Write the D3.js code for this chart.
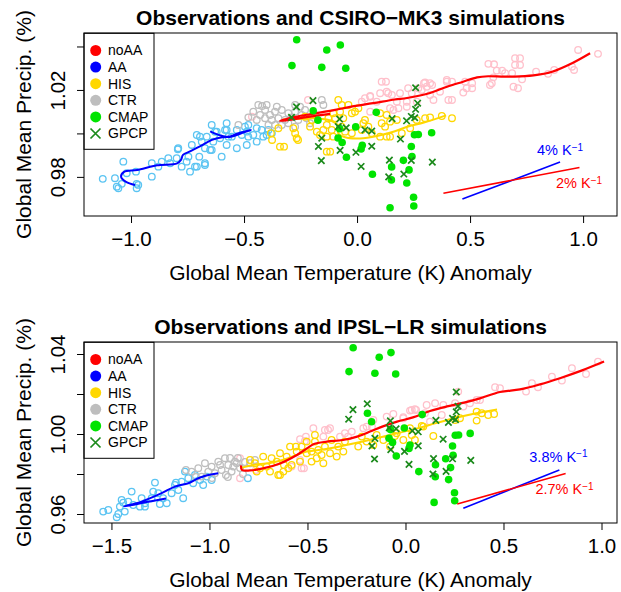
<!DOCTYPE html>
<html>
<head>
<meta charset="utf-8">
<script src="https://cdn.jsdelivr.net/npm/d3@7"></script>
<style>
body { margin: 0; background: #fff; }
text { font-family: "Liberation Sans", Arial, Helvetica, sans-serif; }
</style>
</head>
<body>
<div id="chart"></div>
<script>
// ---------- data (temperature anomaly K, normalised precip.) ----------
const seriesNames = ["noAA", "AA", "HIS", "CTR", "CMAP", "GPCP"];

// observations, shared by both panels
const obsCMAP = [[-0.267,1.0431],[-0.134,1.0384],[-0.074,1.0407],[-0.288,1.0312],[-0.156,1.0304],[-0.050,1.0300],
  [-0.194,1.0104],[-0.173,1.0061],[-0.077,1.0022],[-0.006,1.0030],[0.085,1.0097],[-0.066,0.9958],
  [-0.084,0.9979],[-0.047,0.9890],[0.018,0.9928],[0.068,0.9812],[0.153,0.9846],[0.152,0.9786],
  [0.146,0.9658],[0.205,0.9876],[0.240,0.9940],[0.254,0.9994],[0.271,0.9995],[0.330,1.0003],
  [0.243,0.9894],[0.230,0.9832],[0.220,0.9772],[0.250,0.9706],[0.251,0.9666],[0.023,0.9945]];
const obsGPCP = [[-0.195,1.0151],[-0.268,1.0122],[-0.290,1.0074],[-0.077,1.0066],[-0.048,1.0026],[-0.083,1.0031],
  [-0.156,0.9978],[-0.171,0.9940],[-0.075,0.9922],[-0.158,0.9875],[-0.005,0.9913],[0.065,1.0011],
  [0.065,0.9941],[0.018,0.9848],[0.155,1.0068],[0.192,0.9974],[0.143,0.9877],[0.140,0.9800],
  [0.207,0.9813],[0.240,0.9876],[0.219,1.0058],[0.240,1.0078],[0.255,1.0072],[0.268,1.0139],
  [0.259,1.0210],[0.259,1.0111],[0.333,0.9868],[0.035,1.0016]];

// CSIRO-MK3
const csiroNoAA = [[0.109,1.0238],[0.581,1.0320],[0.699,1.0346],[0.699,1.0315],[0.618,1.0289],[0.655,1.0277],
  [0.603,1.0258],[0.596,1.0231],[0.692,1.0215],[0.478,1.0238],[0.485,1.0208],[0.470,1.0188],[0.397,1.0238],
  [0.404,1.0154],[0.367,1.0192],[0.323,1.0177],[0.301,1.0234],[0.308,1.0215],[0.286,1.0200],[0.242,1.0185],
  [0.220,1.0146],[0.183,1.0116],[0.154,1.0177],[0.131,1.0192],[0.102,1.0185],[0.058,1.0172],[0.035,1.0162],
  [0.021,1.0146],[0.087,1.0146],[0.176,1.0146],[0.146,1.0116],[0.264,1.0146],[0.338,1.0154],[0.978,1.0384],
  [1.066,1.0366],[0.721,1.0346],[0.721,1.0315],[0.606,1.0318],[0.642,1.0289],[0.686,1.0277],[0.588,1.0223],
  [0.509,1.0231],[0.420,1.0238],[0.420,1.0154],[0.509,1.0208],[0.845,1.0274],[0.792,1.0284],[0.872,1.0292],
  [0.951,1.0307],[0.960,1.0292],[0.712,1.0208],[0.730,1.0249],[0.128,1.0238],[-0.217,1.0154],[-0.465,1.0077],
  [0.226,1.0208],[0.296,1.0231],[0.332,1.0223],[0.058,1.0169],[0.190,1.0185],[0.397,1.0246],[0.323,1.0231],
  [0.271,1.0208],[0.058,1.0100],[0.220,1.0123],[0.161,1.0108],[0.138,1.0185]];
const csiroAA = [[-1.125,0.9791],[-1.071,0.9794],[-1.063,0.9755],[-1.041,0.9768],[-1.034,0.9870],[-1.019,0.9817],
  [-0.975,0.9768],[-0.975,0.9748],[-0.978,0.9824],[-0.908,0.9863],[-0.908,0.9801],[-0.879,0.9847],[-0.864,0.9870],
  [-0.835,0.9886],[-0.827,0.9863],[-0.791,0.9932],[-0.798,0.9886],[-0.754,0.9870],[-0.776,0.9847],[-0.717,0.9847],
  [-0.746,0.9893],[-0.709,0.9993],[-0.698,0.9893],[-0.673,0.9855],[-0.687,0.9962],[-0.673,0.9932],[-0.643,1.0039],
  [-0.636,0.9962],[-0.643,0.9924],[-0.599,0.9893],[-0.621,1.0008],[-0.606,0.9978],[-0.577,1.0016],[-0.577,0.9947],
  [-0.554,0.9985],[-0.532,0.9932],[-0.532,1.0016],[-0.510,0.9993],[-0.488,1.0008],[-0.481,1.0039],[-0.459,0.9993],
  [-0.444,1.0024],[-0.422,1.0016],[-0.415,0.9985],[-0.577,1.0047],[-0.665,0.9985],[-0.731,0.9947],[-0.628,1.0008],
  [-0.695,0.9985],[-0.650,0.9924],[-0.488,0.9947],[-0.481,0.9985],[-0.444,0.9962],[-0.400,0.9993],[-0.377,1.0001],
  [-0.392,1.0016],[-0.496,1.0031],[-0.584,1.0016],[-0.569,0.9985],[-0.709,0.9847],[-0.673,0.9863],[-1.056,0.9748],
  [-0.968,0.9763],[-0.793,0.9927],[-0.739,0.9824]];
const csiroHIS = [[-0.341,0.9939],[-0.274,1.0001],[-0.267,0.9978],[-0.282,1.0024],[-0.348,1.0024],[-0.381,1.0001],
  [-0.083,1.0154],[-0.068,1.0131],[-0.038,1.0131],[-0.075,1.0100],[-0.105,1.0093],[-0.127,1.0070],[-0.097,1.0070],
  [-0.061,1.0070],[-0.023,1.0093],[-0.009,1.0100],[0.006,1.0116],[-0.134,1.0039],[-0.112,1.0016],[-0.149,1.0016],
  [-0.164,0.9993],[-0.134,0.9985],[-0.105,0.9985],[-0.053,1.0008],[-0.023,1.0001],[-0.134,0.9916],[0.035,1.0062],
  [0.050,1.0031],[0.021,1.0016],[0.102,1.0093],[0.131,1.0085],[0.146,1.0054],[0.124,1.0031],[0.131,0.9985],
  [0.102,0.9985],[0.065,1.0001],[-0.200,1.0062],[-0.230,1.0077],[-0.208,1.0031],[-0.178,1.0008],[0.146,0.9985],
  [0.198,1.0001],[0.235,1.0024],[0.301,1.0070],[0.375,1.0080],[0.176,1.0062],[0.109,1.0047],[0.028,1.0047],
  [-0.068,1.0031],[0.264,1.0062],[0.420,1.0070],[0.323,1.0074],[-0.376,0.9970],[-0.323,0.9939],[-0.119,0.9916],
  [-0.261,0.9970]];
const csiroCTR = [[-0.437,1.0131],[-0.459,1.0100],[-0.481,1.0074],[-0.525,1.0039],[-0.407,1.0108],[-0.385,1.0085],
  [-0.363,1.0100],[-0.333,1.0108],[-0.304,1.0093],[-0.377,1.0062],[-0.348,1.0070],[-0.319,1.0062],[-0.289,1.0074],
  [-0.274,1.0100],[-0.407,1.0070],[-0.392,1.0039],[-0.363,1.0039],[-0.333,1.0039],[-0.304,1.0047],[-0.260,1.0062],
  [-0.245,1.0085],[-0.223,1.0070],[-0.230,1.0108],[-0.156,1.0154],[-0.149,1.0131],[-0.186,1.0085],[-0.274,1.0031],
  [-0.429,1.0085],[-0.444,1.0062],[-0.400,1.0131],[-0.355,1.0123],[-0.274,1.0131],[-0.208,1.0047],[-0.420,1.0126],
  [-0.252,1.0123]];
const csiroNoAALine = [[-0.119,1.0090],[-0.230,1.0074],[-0.341,1.0057],[-0.274,1.0076],[-0.186,1.0092],[-0.097,1.0108],
  [-0.031,1.0122],[0.071,1.0139],[0.168,1.0156],[0.221,1.0163],[0.323,1.0186],[0.398,1.0215],[0.469,1.0238],
  [0.531,1.0258],[0.580,1.0263],[0.650,1.0261],[0.721,1.0262],[0.796,1.0269],[0.863,1.0284],[0.951,1.0323],[1.031,1.0369]];
const csiroAALine = [[-0.982,0.9763],[-1.022,0.9777],[-1.044,0.9800],[-1.031,0.9823],[-0.973,0.9832],[-0.885,0.9853],
  [-0.796,0.9862],[-0.779,0.9878],[-0.770,0.9901],[-0.739,0.9917],[-0.695,0.9940],[-0.642,0.9970],[-0.597,0.9982],
  [-0.562,0.9986],[-0.527,1.0000],[-0.469,1.0016],[-0.500,1.0005],[-0.562,0.9984],[-0.597,0.9988],[-0.650,1.0009]];
const csiroHISLine = [[-0.327,1.0064],[-0.252,1.0067],[-0.173,1.0069],[-0.111,1.0057],[-0.084,1.0034],[-0.084,1.0002],
  [-0.053,0.9982],[0.013,0.9977],[0.088,0.9988],[0.164,1.0009],[0.226,1.0032],[0.296,1.0050],[0.394,1.0083]];
const csiroSlopeAA = [[0.466,0.9698],[0.898,0.9868]];
const csiroSlopeNoAA = [[0.382,0.9725],[0.984,0.9843]];
const csiroSlopeText = [["4%", 0.898, 0.9924], ["2%", 0.982, 0.9771]];

// IPSL-LR
const ipslNoAA = [[-0.844,0.9879],[-0.844,0.9779],[-0.538,0.9974],[-0.513,0.9965],[-0.411,1.0020],[-0.419,0.9987],
  [-0.334,0.9987],[-0.309,1.0004],[-0.274,1.0012],[-0.215,1.0029],[-0.198,1.0037],[-0.164,1.0070],[-0.096,1.0087],
  [-0.062,1.0100],[-0.011,1.0084],[0.023,1.0117],[0.048,1.0124],[-0.538,0.9870],[-0.581,0.9837],[-0.530,0.9829],
  [-0.385,1.0029],[-0.470,1.0029],[0.457,1.0234],[0.269,1.0212],[0.363,1.0170],[0.329,1.0154],[0.295,1.0137],
  [0.253,1.0154],[0.193,1.0145],[0.151,1.0154],[0.108,1.0145],[0.032,1.0120],[-0.011,1.0079],[0.099,1.0104],
  [0.125,1.0062],[0.185,1.0095],[0.982,1.0362],[0.921,1.0300],[0.849,1.0329],[0.798,1.0267],[0.747,1.0287],
  [0.676,1.0234],[0.645,1.0254],[0.615,1.0212],[0.482,1.0229],[0.380,1.0170],[-0.395,1.0020],[-0.508,0.9987],
  [-0.293,0.9987],[-0.518,0.9829],[-0.763,0.9820],[-0.171,1.0037],[0.054,1.0120]];
const ipslAA = [[-1.542,0.9612],[-1.516,0.9620],[-1.473,0.9584],[-1.465,0.9600],[-1.457,0.9637],[-1.440,0.9657],
  [-1.448,0.9670],[-1.414,0.9662],[-1.397,0.9712],[-1.389,0.9645],[-1.355,0.9637],[-1.346,0.9679],[-1.329,0.9654],
  [-1.295,0.9679],[-1.278,0.9757],[-1.287,0.9712],[-1.261,0.9704],[-1.236,0.9679],[-1.218,0.9654],[-1.193,0.9704],
  [-1.176,0.9745],[-1.159,0.9720],[-1.134,0.9679],[-1.142,0.9762],[-1.125,0.9812],[-1.108,0.9779],[-1.083,0.9754],
  [-1.074,0.9795],[-1.048,0.9770],[-1.032,0.9745],[-1.014,0.9787],[-0.989,0.9770],[-1.253,0.9650],[-1.432,0.9612],
  [-1.329,0.9637],[-0.804,0.9779],[-1.171,0.9757]];
const ipslHIS = [[-0.793,0.9870],[-0.768,0.9854],[-0.742,0.9829],[-0.759,0.9812],[-0.708,0.9837],[-0.683,0.9879],
  [-0.657,0.9862],[-0.649,0.9795],[-0.640,0.9904],[-0.606,0.9887],[-0.598,0.9829],[-0.581,0.9845],[-0.589,0.9937],
  [-0.555,0.9912],[-0.538,0.9862],[-0.530,0.9937],[-0.504,0.9962],[-0.479,0.9912],[-0.462,0.9962],[-0.445,0.9920],
  [-0.453,0.9879],[-0.428,0.9895],[-0.419,0.9854],[-0.479,0.9862],[-0.504,0.9904],[-0.411,0.9937],[-0.385,0.9904],
  [-0.351,0.9887],[-0.377,0.9970],[-0.343,0.9937],[-0.309,0.9962],[-0.317,0.9912],[-0.241,0.9937],[-0.223,0.9987],
  [-0.198,0.9962],[-0.164,0.9945],[-0.147,0.9995],[-0.691,0.9812],[-0.726,0.9887],[-0.623,0.9812],[-0.462,0.9995],
  [-0.113,0.9970],[-0.045,1.0004],[-0.011,0.9970],[0.023,1.0029],[0.083,1.0040],[0.032,0.9995],[0.048,0.9970],
  [-0.079,0.9937],[0.363,1.0112],[0.389,1.0104],[0.422,1.0095],[0.363,1.0067],[0.278,1.0079],[0.253,1.0070],
  [0.142,0.9990],[0.091,1.0037],[-0.054,0.9990],[0.452,1.0100],[-0.640,0.9795],[-0.620,0.9845],[-0.559,0.9937]];
const ipslCTR = [[-1.091,0.9812],[-1.057,0.9829],[-1.023,0.9854],[-0.989,0.9837],[-0.955,0.9862],[-0.921,0.9879],
  [-0.904,0.9845],[-0.938,0.9820],[-0.972,0.9804],[-1.006,0.9812],[-0.887,0.9812],[-0.870,0.9862],[-1.040,0.9787],
  [-0.879,0.9837],[-0.861,0.9854],[-0.844,0.9830],[-0.819,0.9860],[-0.829,0.9800],[-0.906,0.9785],[-0.793,0.9854],
  [-0.768,0.9870],[-0.987,0.9780],[-1.069,0.9785],[-0.946,0.9845],[-0.855,0.9880],[-0.895,0.9880],[-1.120,0.9820],
  [-0.916,0.9795]];
const ipslNoAALine = [[-0.839,0.9843],[-0.834,0.9820],[-0.793,0.9818],[-0.727,0.9828],[-0.640,0.9853],[-0.554,0.9895],
  [-0.503,0.9928],[-0.467,0.9950],[-0.401,0.9962],[-0.319,0.9970],[-0.247,0.9987],[-0.181,1.0012],[-0.115,1.0038],
  [-0.043,1.0062],[0.038,1.0083],[0.125,1.0115],[0.212,1.0138],[0.304,1.0158],[0.380,1.0178],[0.482,1.0210],
  [0.584,1.0223],[0.686,1.0248],[0.788,1.0279],[0.901,1.0318],[1.013,1.0362]];
const ipslAALine = [[-1.222,0.9678],[-1.304,0.9663],[-1.380,0.9648],[-1.436,0.9638],[-1.346,0.9662],[-1.244,0.9704],
  [-1.176,0.9737],[-1.108,0.9754],[-1.057,0.9779],[-1.006,0.9795],[-0.955,0.9804]];
const ipslHISLine = [[-0.844,0.9829],[-0.778,0.9845],[-0.691,0.9855],[-0.599,0.9879],[-0.503,0.9912],[-0.421,0.9923],
  [-0.334,0.9938],[-0.217,0.9963],[-0.130,0.9983],[-0.043,1.0003],[0.059,1.0028],[0.151,1.0053],[0.253,1.0080],
  [0.355,1.0103],[0.467,1.0123]];
const ipslSlopeAA = [[0.295,0.9629],[0.785,0.9820]];
const ipslSlopeNoAA = [[0.264,0.9650],[0.817,0.9802]];
const ipslSlopeText = [["3.8%", 0.780, 0.9887], ["2.7%", 0.811, 0.9724]];

// ticks
const csiroXTicks = [-1.0, -0.5, 0.0, 0.5, 1.0];
const csiroYTicks = [0.98, 1.00, 1.02, 1.04];
const csiroYLabels = [0.98, 1.02];
const ipslXTicks = [-1.5, -1.0, -0.5, 0.0, 0.5, 1.0];
const ipslYTicks = [0.96, 0.98, 1.00, 1.02, 1.04];
const ipslYLabels = [0.96, 1.00, 1.04];

// ---------- drawing ----------
const col = {noAA:"#FF0000", noAApt:"#FFC0CB", AA:"#0000FF", AApt:"#5BC4F2",
             HIS:"#FFD700", CTR:"#BEBEBE", CMAP:"#00E400", GPCP:"#1B8A1B"};

const svg = d3.select("#chart").append("svg")
  .attr("width", 621).attr("height", 592);

function panel(p) {
  const x = d3.scaleLinear().domain(p.xDomain).range([84, 617]);
  const y = d3.scaleLinear().domain(p.yDomain).range([p.bottom, p.top]);
  const g = svg.append("g");
  const line = d3.line().x(d => x(d[0])).y(d => y(d[1])).curve(d3.curveCatmullRom);

  function circles(data, color) {
    g.append("g").selectAll("circle").data(data).join("circle")
      .attr("cx", d => x(d[0])).attr("cy", d => y(d[1])).attr("r", 3.3)
      .attr("fill", "none").attr("stroke", color).attr("stroke-width", 1.3);
  }
  circles(p.noAA, col.noAApt);
  circles(p.AA, col.AApt);
  circles(p.CTR, col.CTR);
  circles(p.HIS, col.HIS);

  g.append("path").datum(p.AALine).attr("d", line).attr("fill", "none")
    .attr("stroke", col.AA).attr("stroke-width", 2);
  g.append("path").datum(p.HISLine).attr("d", line).attr("fill", "none")
    .attr("stroke", col.HIS).attr("stroke-width", 2);
  g.append("path").datum(p.noAALine).attr("d", line).attr("fill", "none")
    .attr("stroke", col.noAA).attr("stroke-width", 2.2);

  g.append("g").selectAll("circle").data(obsCMAP).join("circle")
    .attr("cx", d => x(d[0])).attr("cy", d => y(d[1])).attr("r", 3.8)
    .attr("fill", col.CMAP);
  const s = 3.2;
  g.append("g").selectAll("path").data(obsGPCP).join("path")
    .attr("d", d => { const cx = x(d[0]), cy = y(d[1]);
      return `M${cx-s},${cy-s}L${cx+s},${cy+s}M${cx-s},${cy+s}L${cx+s},${cy-s}`; })
    .attr("stroke", col.GPCP).attr("stroke-width", 1.7).attr("fill", "none");

  // slope reference lines
  const straight = d3.line().x(d => x(d[0])).y(d => y(d[1]));
  g.append("path").attr("d", straight(p.slopeAA)).attr("stroke", col.AA).attr("stroke-width", 1.6);
  g.append("path").attr("d", straight(p.slopeNoAA)).attr("stroke", col.noAA).attr("stroke-width", 1.6);
  p.slopeText.forEach((t, i) => {
    const tx = g.append("text").attr("x", x(t[1])).attr("y", y(t[2])).attr("dy", "0.35em")
      .attr("text-anchor", "middle").style("font-size", "14.5px")
      .attr("fill", i === 0 ? col.AA : col.noAA);
    tx.append("tspan").text(t[0] + " K");
    tx.append("tspan").attr("dy", "-0.45em").style("font-size", "10px").text("\u22121");
  });

  // legend
  const lg = g.append("g");
  lg.append("rect").attr("x", 84).attr("y", p.top + 0.3).attr("width", 70).attr("height", 116)
    .attr("fill", "#fff").attr("stroke", "#000").attr("stroke-width", 1);
  const legCols = [col.noAA, col.AA, col.HIS, col.CTR, col.CMAP, col.GPCP];
  seriesNames.forEach((nm, i) => {
    const ly = p.top + 17.5 + i * 16.6;
    if (nm === "GPCP") {
      lg.append("path").attr("d", `M90.5,${ly-5}L100.5,${ly+5}M90.5,${ly+5}L100.5,${ly-5}`)
        .attr("stroke", legCols[i]).attr("stroke-width", 1.7);
    } else {
      lg.append("circle").attr("cx", 95.7).attr("cy", ly).attr("r", 5.5).attr("fill", legCols[i]);
    }
    lg.append("text").attr("x", 108).attr("y", ly).attr("dy", "0.35em")
      .style("font-size", "14px").text(nm);
  });

  // axes
  const fmt1 = d3.format(".1f"), fmt2 = d3.format(".2f");
  const xa = g.append("g").attr("transform", `translate(0,${p.bottom})`)
    .call(d3.axisBottom(x).tickValues(p.xTicks).tickFormat(fmt1).tickSize(7));
  xa.select(".domain").remove();
  xa.selectAll("text").attr("y", 23).attr("dy", "0.35em").style("font-size", "20.5px")
    .attr("font-family", null).attr("fill", "#000");
  const ya = g.append("g").attr("transform", "translate(84,0)")
    .call(d3.axisLeft(y).tickValues(p.yTicks)
      .tickFormat(d => p.yLabels.some(v => Math.abs(v - d) < 1e-9) ? fmt2(d) : "").tickSize(7));
  ya.select(".domain").remove();
  ya.selectAll("text").attr("x", 0).attr("y", 0).attr("dy", 0)
    .attr("transform", "translate(-19,0) rotate(-90)").attr("text-anchor", "middle")
    .style("font-size", "20.5px").attr("font-family", null).attr("fill", "#000");
  g.selectAll(".tick line").attr("stroke", "#000");

  g.append("rect").attr("x", 84).attr("y", p.top).attr("width", 533).attr("height", p.bottom - p.top)
    .attr("fill", "none").attr("stroke", "#000").attr("stroke-width", 1);

  // titles
  g.append("text").attr("x", 350.5).attr("y", p.top - 15).attr("dy", "0.35em")
    .attr("text-anchor", "middle").style("font-size", "21px").style("font-weight", "bold").text(p.title);
  g.append("text").attr("x", 350.5).attr("y", p.bottom + 57).attr("dy", "0.35em")
    .attr("text-anchor", "middle").style("font-size", "21px")
    .text("Global Mean Temperature (K) Anomaly");
  g.append("text").attr("transform", `translate(24,${(p.top + p.bottom) / 2}) rotate(-90)`)
    .attr("dy", "0.35em").attr("text-anchor", "middle").style("font-size", "21px")
    .text("Global Mean Precip. (%)");
}

panel({
  title: "Observations and CSIRO\u2212MK3 simulations",
  top: 33, bottom: 216, xDomain: [-1.208, 1.150], yDomain: [0.9620, 1.0462],
  noAA: csiroNoAA, AA: csiroAA, HIS: csiroHIS, CTR: csiroCTR,
  noAALine: csiroNoAALine, AALine: csiroAALine, HISLine: csiroHISLine,
  slopeAA: csiroSlopeAA, slopeNoAA: csiroSlopeNoAA, slopeText: csiroSlopeText,
  xTicks: csiroXTicks, yTicks: csiroYTicks, yLabels: csiroYLabels
});
panel({
  title: "Observations and IPSL\u2212LR simulations",
  top: 342, bottom: 523, xDomain: [-1.640, 1.079], yDomain: [0.9555, 1.0460],
  noAA: ipslNoAA, AA: ipslAA, HIS: ipslHIS, CTR: ipslCTR,
  noAALine: ipslNoAALine, AALine: ipslAALine, HISLine: ipslHISLine,
  slopeAA: ipslSlopeAA, slopeNoAA: ipslSlopeNoAA, slopeText: ipslSlopeText,
  xTicks: ipslXTicks, yTicks: ipslYTicks, yLabels: ipslYLabels
});
</script>
</body>
</html>
